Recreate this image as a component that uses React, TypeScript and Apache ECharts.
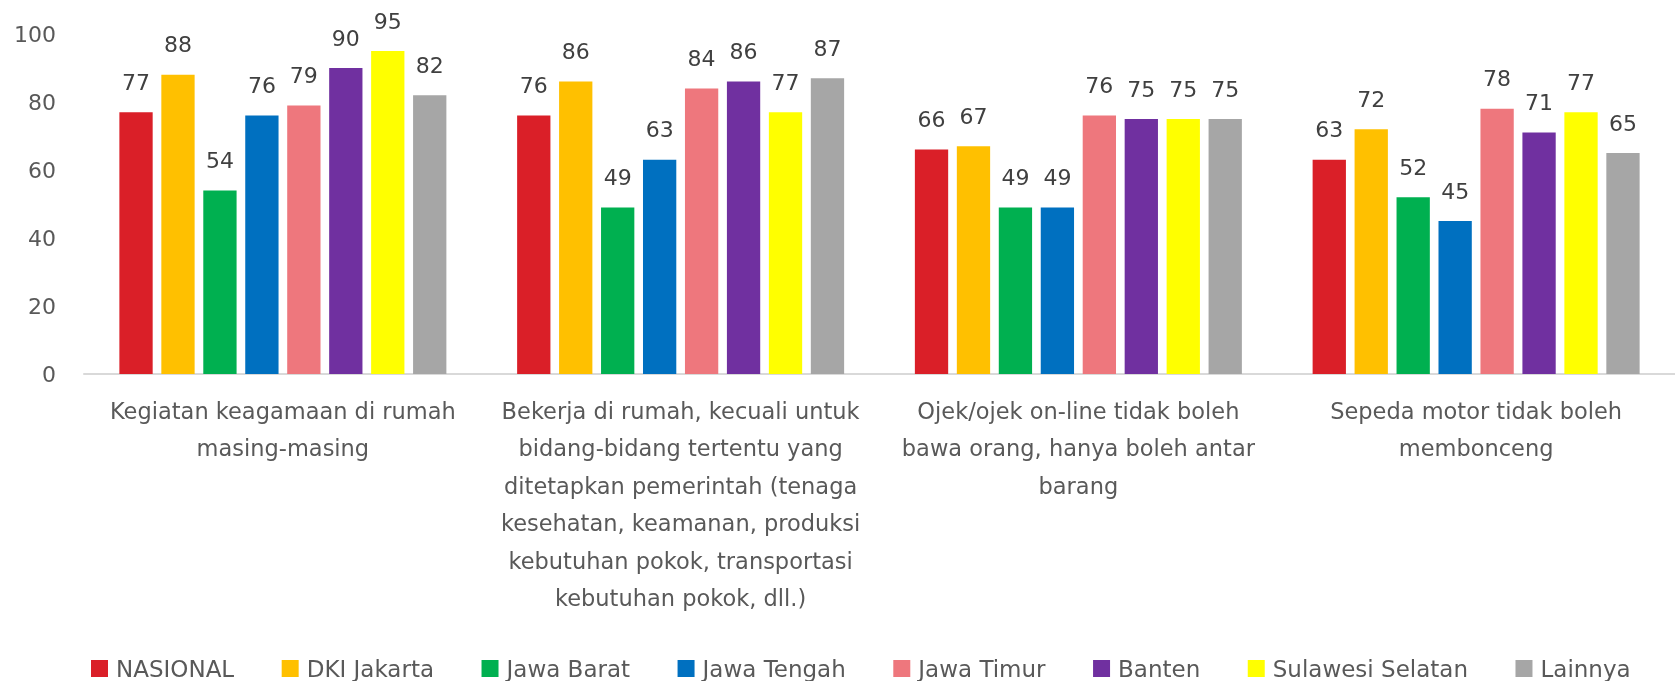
import React, { useEffect, useRef } from "react";
import * as echarts from "echarts";

const categories = [
  "Kegiatan keagamaan di rumah\nmasing-masing",
  "Bekerja di rumah, kecuali untuk\nbidang-bidang tertentu yang\nditetapkan pemerintah (tenaga\nkesehatan, keamanan, produksi\nkebutuhan pokok, transportasi\nkebutuhan pokok, dll.)",
  "Ojek/ojek on-line tidak boleh\nbawa orang, hanya boleh antar\nbarang",
  "Sepeda motor tidak boleh\nmembonceng",
];

const seriesNames = [
  "NASIONAL",
  "DKI Jakarta",
  "Jawa Barat",
  "Jawa Tengah",
  "Jawa Timur",
  "Banten",
  "Sulawesi Selatan",
  "Lainnya",
];

const nasional = [77, 76, 66, 63];
const dkiJakarta = [88, 86, 67, 72];
const jawaBarat = [54, 49, 49, 52];
const jawaTengah = [76, 63, 49, 45];
const jawaTimur = [79, 84, 76, 78];
const banten = [90, 86, 75, 71];
const sulawesiSelatan = [95, 77, 75, 77];
const lainnya = [82, 87, 75, 65];

const seriesValues = [
  nasional,
  dkiJakarta,
  jawaBarat,
  jawaTengah,
  jawaTimur,
  banten,
  sulawesiSelatan,
  lainnya,
];

const colors = [
  "#DA1F28",
  "#FFC000",
  "#00B050",
  "#0070C0",
  "#EE777D",
  "#7030A0",
  "#FFFF00",
  "#A6A6A6",
];

const FONT = "'DejaVu Sans', Verdana, sans-serif";

export default function App() {
  const ref = useRef<HTMLDivElement>(null);

  useEffect(() => {
    if (!ref.current) return;
    const chart = echarts.init(ref.current, undefined, { renderer: "svg" });
    chart.setOption({
      animation: false,
      color: colors,
      textStyle: { fontFamily: FONT },
      grid: { left: 84, right: -13, top: 34, bottom: 307, containLabel: false },
      legend: {
        left: 86,
        top: 652,
        itemWidth: 17,
        itemHeight: 17,
        itemGap: 47.5,
        icon: "rect",
        data: seriesNames,
        textStyle: {
          fontFamily: FONT,
          fontSize: 23,
          color: "#595959",
          padding: [0, 0, 0, 3],
        },
      },
      xAxis: {
        type: "category",
        data: categories,
        axisLine: { show: true, lineStyle: { color: "#D9D9D9", width: 2 } },
        axisTick: { show: false },
        axisLabel: {
          interval: 0,
          margin: 18,
          fontFamily: FONT,
          fontSize: 22.5,
          lineHeight: 37.5,
          color: "#595959",
          align: "center",
        },
      },
      yAxis: {
        type: "value",
        min: 0,
        max: 100,
        interval: 20,
        axisLine: { show: false },
        axisTick: { show: false },
        splitLine: { show: false },
        axisLabel: {
          margin: 28,
          fontFamily: FONT,
          fontSize: 22,
          color: "#595959",
        },
      },
      series: seriesNames.map((name, i) => ({
        name,
        type: "bar",
        data: seriesValues[i],
        barWidth: 33.3,
        barGap: "26%",
        itemStyle: { color: colors[i] },
        label: {
          show: true,
          position: "top",
          distance: 19,
          fontFamily: FONT,
          fontSize: 22,
          color: "#404040",
        },
      })),
    });
    return () => chart.dispose();
  }, []);

  return (
    <div
      ref={ref}
      style={{ position: "fixed", left: 0, top: 0, width: 1675, height: 681 }}
    />
  );
}
